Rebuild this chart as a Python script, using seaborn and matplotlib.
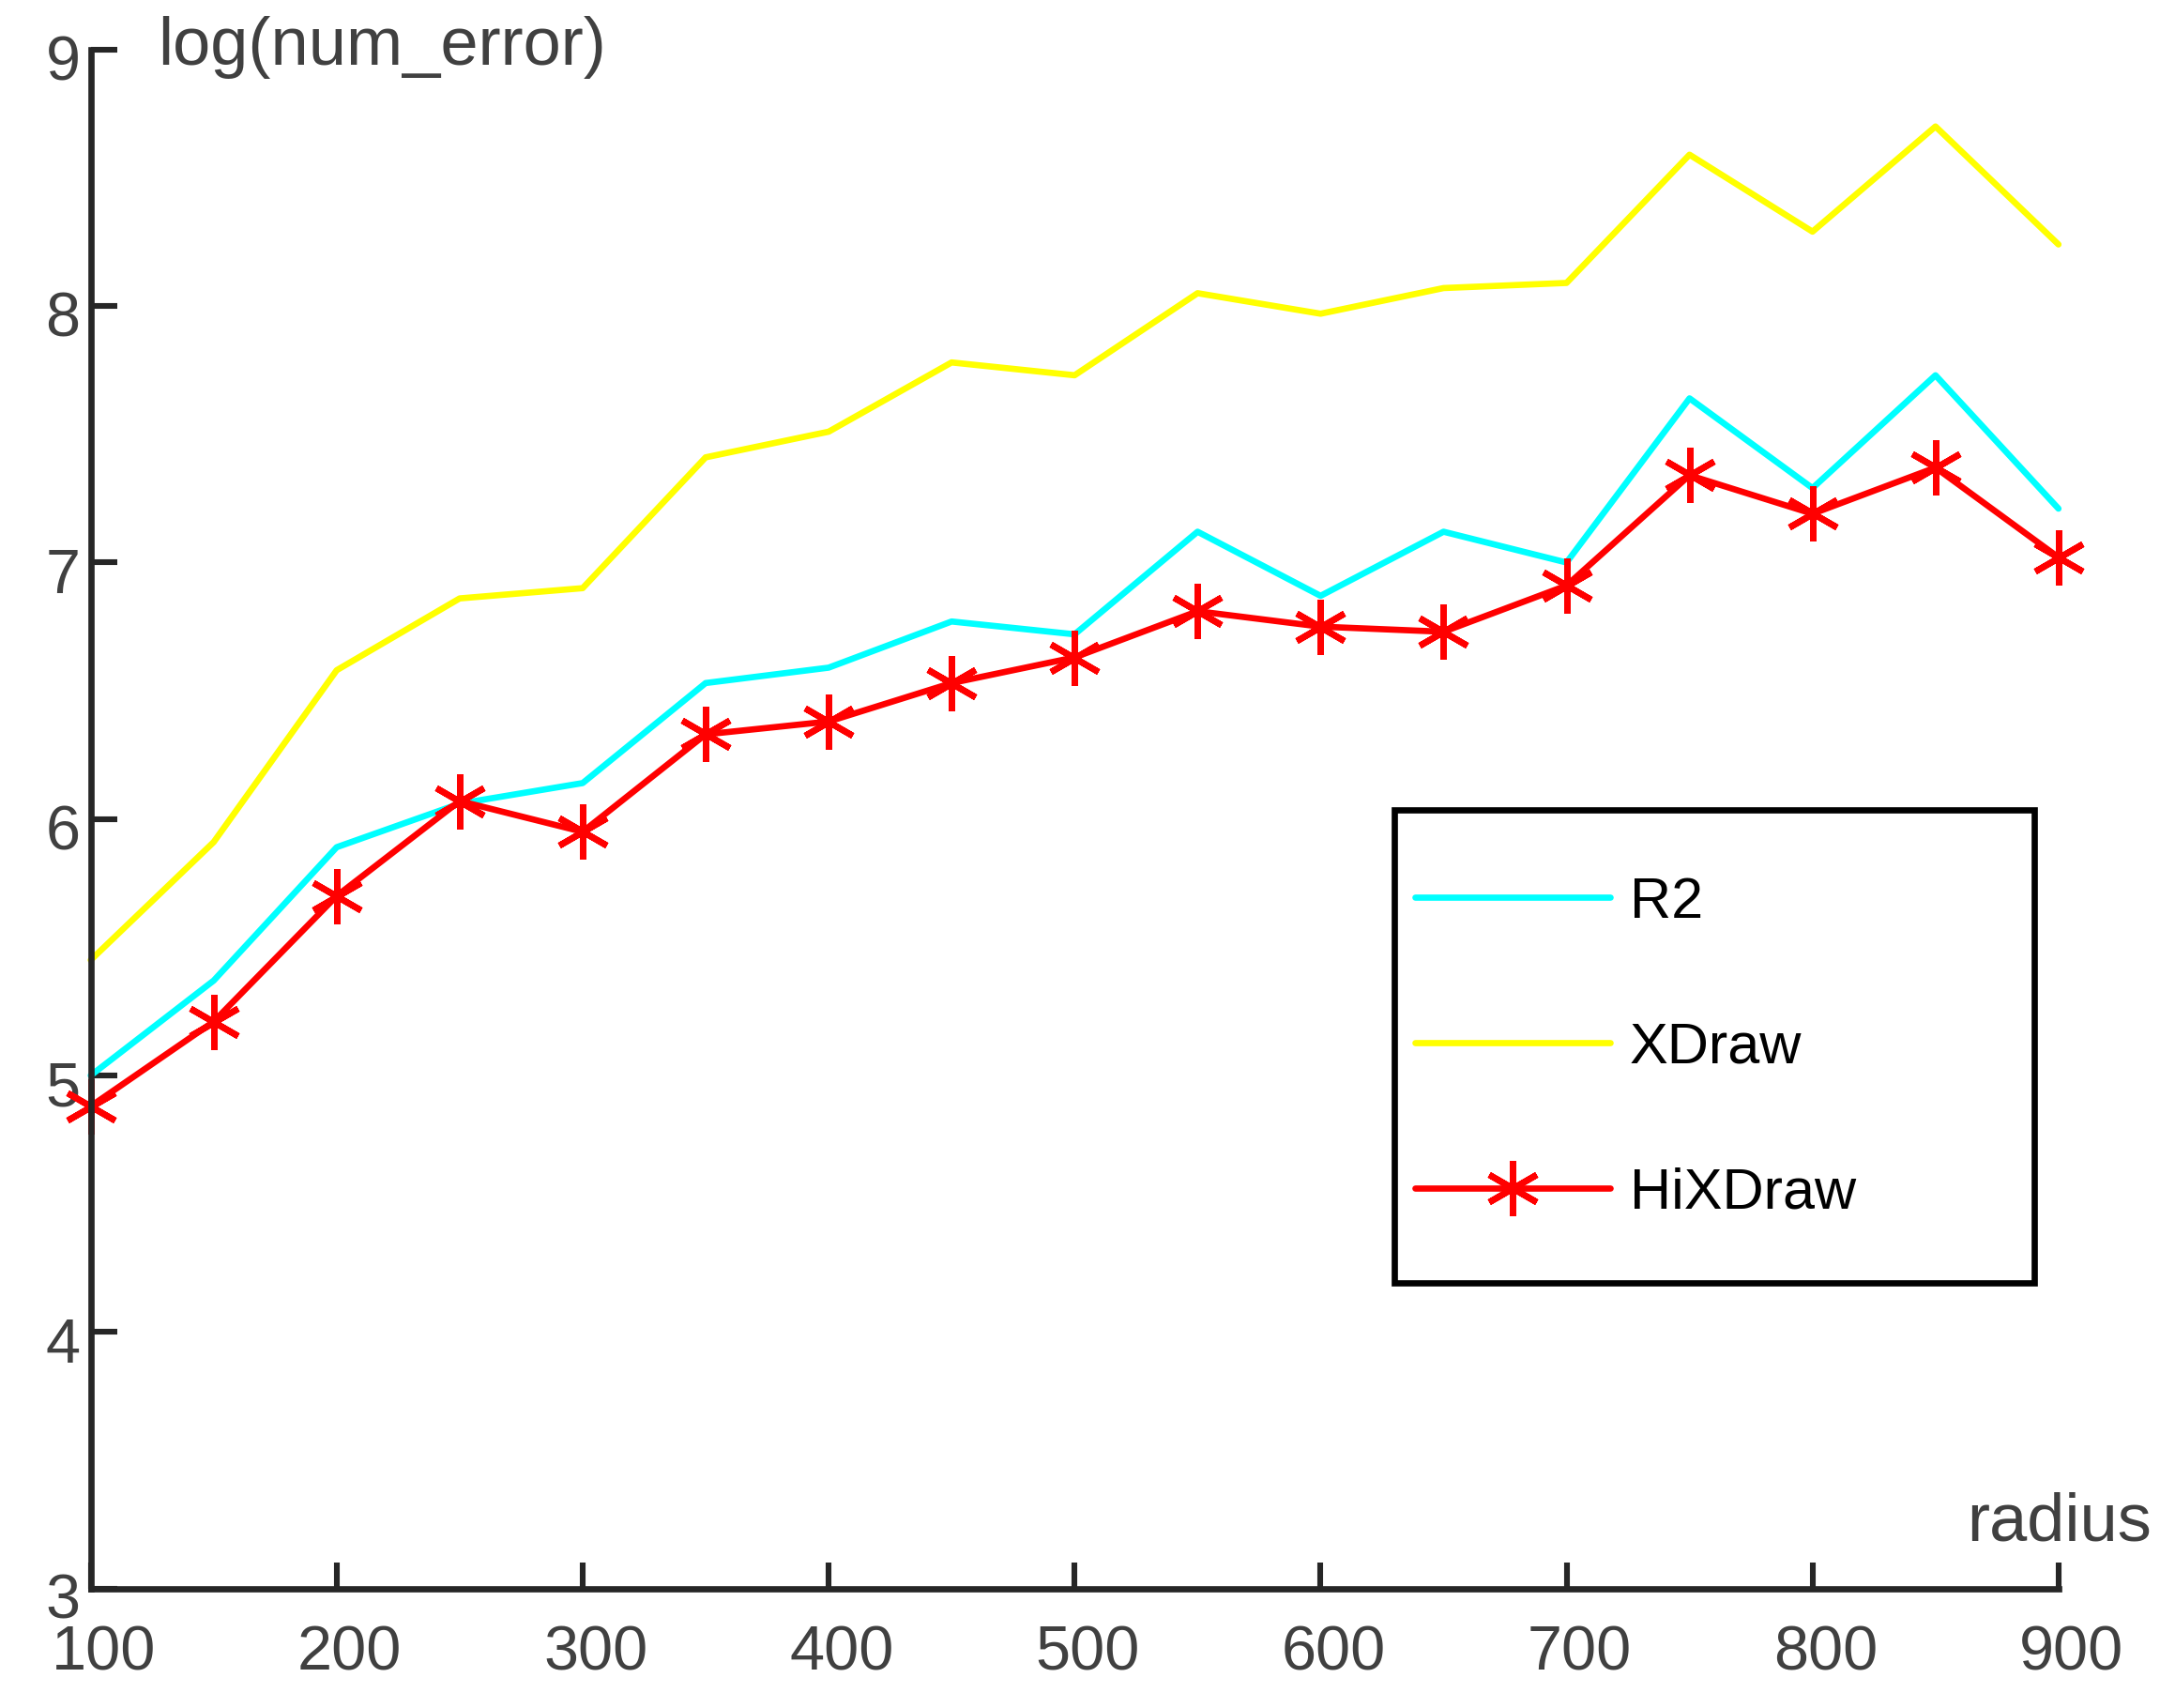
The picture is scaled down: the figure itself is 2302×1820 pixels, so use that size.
import matplotlib
matplotlib.use('Agg')
import matplotlib.pyplot as plt
import matplotlib.transforms as mtransforms
from matplotlib.patches import Rectangle
import numpy as np
import pandas as pd
import seaborn as sns

radius = [100, 150, 200, 250, 300, 350, 400, 450, 500,
          550, 600, 650, 700, 750, 800, 850, 900]
r2 = [5.00, 5.37, 5.89, 6.06, 6.14, 6.53, 6.59, 6.77, 6.72,
      7.12, 6.87, 7.12, 7.00, 7.64, 7.29, 7.73, 7.21]
xdraw = [5.45, 5.91, 6.58, 6.86, 6.90, 7.41, 7.51, 7.78, 7.73,
         8.05, 7.97, 8.07, 8.09, 8.59, 8.29, 8.70, 8.24]
hixdraw = [4.88, 5.21, 5.70, 6.07, 5.95, 6.33, 6.38, 6.53, 6.63,
           6.81, 6.75, 6.73, 6.91, 7.34, 7.19, 7.37, 7.02]
xticks = [100, 200, 300, 400, 500, 600, 700, 800, 900]
yticks = [3, 4, 5, 6, 7, 8, 9]

sns.set_style('white')
plt.rcParams['font.family'] = ['Liberation Sans', 'DejaVu Sans']

axcol = '#262626'
txtcol = '#404040'

fig = plt.figure(figsize=(11.51, 9.10), dpi=200)
ax = fig.add_axes([0.042, 0.070, 0.911, 0.901])

df = pd.DataFrame({'radius': radius, 'R2': r2, 'XDraw': xdraw, 'HiXDraw': hixdraw})

sns.lineplot(data=df, x='radius', y='R2', color='#00FFFF', lw=2.4, label='R2', ax=ax)
sns.lineplot(data=df, x='radius', y='XDraw', color='#FFFF00', lw=2.4, label='XDraw', ax=ax)
sns.lineplot(data=df, x='radius', y='HiXDraw', color='#FF0000', lw=2.4,
             marker=(6, 2, 0), markersize=21, markeredgewidth=2.4,
             markeredgecolor='#FF0000', label='HiXDraw', ax=ax)
for ln in ax.lines:
    ln.set_clip_on(False)

ax.set_xlim(100, 900)
ax.set_ylim(3, 9)
ax.set_xticks(xticks)
ax.set_yticks(yticks)
ax.set_xlabel('')
ax.set_ylabel('')

for s in ['top', 'right']:
    ax.spines[s].set_visible(False)
for s in ['left', 'bottom']:
    ax.spines[s].set_color(axcol)
    ax.spines[s].set_linewidth(2.4)

ax.tick_params(axis='both', direction='in', length=10, width=2.2, color=axcol,
               labelsize=24, labelcolor=txtcol, bottom=True, left=True)
ax.tick_params(axis='x', pad=14)
ax.tick_params(axis='y', pad=4)

# matlab style: x labels nudged right, y labels nudged down
dx = mtransforms.ScaledTranslation(5 / 72, 0, fig.dpi_scale_trans)
for lab in ax.get_xticklabels():
    lab.set_transform(lab.get_transform() + dx)
dy = mtransforms.ScaledTranslation(0, -3 / 72, fig.dpi_scale_trans)
for lab in ax.get_yticklabels():
    lab.set_transform(lab.get_transform() + dy)

fig.text(0.073, 0.972, 'log(num_error)', fontsize=26, color=txtcol,
         ha='left', va='center')
fig.text(0.996, 0.108, 'radius', fontsize=26, color=txtcol,
         ha='right', va='center')

# legend frame drawn separately so the padding can match
fig.patches.append(Rectangle((0.6455, 0.249), 0.2965, 0.277, transform=fig.transFigure,
                             fill=False, edgecolor='black', lw=2.4, zorder=5))
leg = ax.legend(loc='upper left', bbox_to_anchor=(0.655, 0.487),
                bbox_transform=fig.transFigure, borderaxespad=0,
                fontsize=22, handlelength=3.4, handletextpad=0.35,
                labelspacing=1.6, borderpad=0, frameon=False)
for t in leg.get_texts():
    t.set_color('black')

fig.savefig('out.png', dpi=200)
